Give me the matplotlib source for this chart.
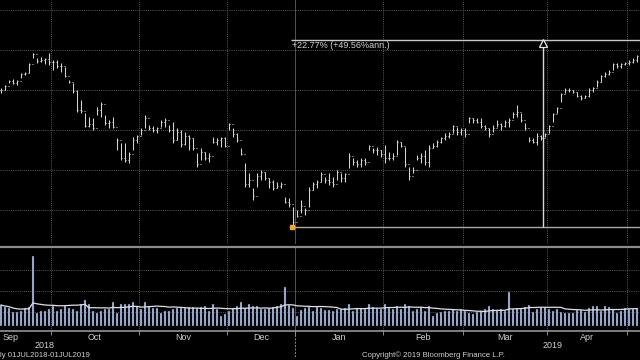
import matplotlib
matplotlib.use("Agg")
import matplotlib.pyplot as plt
import matplotlib.transforms as mtransforms
import numpy as np
import pandas as pd

# ---- data (daily bars, Sep 2018 - early May 2019) ----
months = ["Sep", "Oct", "Nov", "Dec", "Jan", "Feb", "Mar", "Apr", "May"]
month_bars = [13, 22, 22, 17, 22, 20, 21, 20, 3]   # bars visible per month
sep_hidden = 7                                      # Sep bars cut off on the left

high = [
    48.10, 48.25, 48.50, 48.55, 48.50, 48.85, 48.90, 49.35, 49.85, 49.60, 49.65, 49.60, 49.85,
    49.50, 49.50, 49.35, 49.15, 48.50, 48.35, 48.00, 47.50, 46.85, 46.65, 46.60, 47.15, 47.40,
    46.75, 46.50, 46.65, 45.60, 45.35, 45.35, 44.90, 45.65, 45.75,
    46.10, 46.75, 46.25, 46.20, 46.15, 46.50, 46.60, 46.25, 46.40, 46.10, 46.00, 45.90, 45.75,
    45.60, 44.85, 45.10, 44.90, 44.85, 45.65, 45.60, 45.65, 45.65,
    46.35, 46.10, 45.85, 45.10, 44.35, 43.85, 43.10, 43.85, 44.00, 43.90, 43.60, 43.50, 43.40,
    43.40, 42.65, 42.60, 42.15,
    42.00, 42.50, 42.10, 43.15, 43.40, 43.50, 43.90, 43.65, 43.85, 43.65, 44.00, 43.85, 43.85,
    44.85, 44.60, 44.50, 44.60, 44.60, 45.25, 45.10, 45.15, 45.00,
    45.25, 44.90, 44.85, 45.50, 45.40, 45.15, 44.15, 44.15, 44.75, 44.85, 45.00, 45.25, 45.35,
    45.50, 45.65, 45.85, 45.90, 46.25, 46.15, 46.10,
    46.10, 46.65, 46.60, 46.60, 46.60, 46.25, 46.10, 46.25, 46.50, 46.35, 46.50, 46.60, 46.90,
    47.25, 46.85, 46.35, 45.65, 45.60, 45.85, 45.75, 45.85,
    46.25, 46.85, 47.15, 47.85, 48.10, 48.10, 48.00, 47.90, 47.75, 47.75, 48.10, 48.15, 48.50,
    48.75, 48.90, 49.00, 49.35, 49.35, 49.35, 49.40,
    49.50, 49.60, 49.75,
]
low = [
    47.85, 48.00, 48.35, 48.30, 48.25, 48.60, 48.75, 48.85, 49.60, 49.35, 49.40, 49.30, 49.25,
    49.00, 49.10, 48.90, 48.65, 48.35, 47.85, 46.90, 46.85, 46.15, 46.15, 46.00, 46.75, 46.65,
    46.25, 46.10, 46.10, 45.00, 44.50, 44.40, 44.35, 45.00, 45.35,
    45.75, 46.10, 46.00, 45.90, 45.85, 46.15, 46.15, 45.90, 45.35, 45.50, 45.15, 45.25, 45.00,
    45.00, 44.15, 44.50, 44.50, 44.40, 45.35, 45.25, 45.15, 45.15,
    46.00, 45.65, 45.40, 44.75, 43.15, 43.15, 42.50, 43.15, 43.50, 43.50, 43.10, 43.00, 43.10,
    43.10, 42.35, 42.15, 41.15,
    41.65, 41.85, 41.75, 42.15, 43.00, 43.10, 43.40, 43.35, 43.25, 43.15, 43.50, 43.40, 43.40,
    44.10, 44.25, 44.15, 44.15, 44.25, 45.00, 44.85, 44.75, 44.65,
    44.35, 44.50, 44.50, 44.75, 45.15, 44.15, 43.50, 43.85, 44.50, 44.35, 44.25, 44.15, 45.10,
    45.15, 45.35, 45.50, 45.60, 45.85, 45.75, 45.75,
    45.65, 46.35, 46.35, 46.35, 46.10, 46.00, 45.65, 45.90, 46.15, 46.00, 46.15, 46.15, 46.60,
    46.65, 46.40, 46.00, 45.40, 45.35, 45.25, 45.50, 45.65,
    45.85, 46.40, 46.85, 47.40, 47.85, 47.90, 47.85, 47.65, 47.50, 47.60, 47.65, 47.90, 48.15,
    48.40, 48.65, 48.75, 49.00, 49.10, 49.10, 49.25,
    49.25, 49.35, 49.40,
]
close = [
    48.00, 48.20, 48.45, 48.35, 48.45, 48.80, 48.85, 49.30, 49.80, 49.45, 49.50, 49.55, 49.40,
    49.40, 49.20, 49.20, 48.70, 48.40, 47.95, 47.00, 46.95, 46.20, 46.30, 46.10, 47.00, 47.30,
    46.35, 46.40, 46.15, 45.50, 44.60, 44.50, 44.80, 45.50, 45.70,
    46.00, 46.60, 46.10, 46.00, 46.10, 46.40, 46.50, 46.00, 45.50, 45.90, 45.30, 45.70, 45.60,
    45.10, 44.30, 44.90, 44.60, 44.70, 45.40, 45.50, 45.60, 45.20,
    46.30, 45.80, 45.50, 44.80, 43.30, 43.50, 42.70, 43.70, 43.90, 43.60, 43.40, 43.10, 43.20,
    43.30, 42.40, 42.30, 41.40,
    41.70, 42.20, 42.00, 43.00, 43.30, 43.40, 43.80, 43.50, 43.40, 43.30, 43.90, 43.60, 43.80,
    44.70, 44.40, 44.30, 44.50, 44.40, 45.20, 45.00, 45.00, 44.80,
    44.60, 44.60, 44.70, 45.40, 45.20, 44.30, 43.70, 44.00, 44.60, 44.70, 44.40, 45.10, 45.20,
    45.40, 45.60, 45.70, 45.80, 46.20, 45.90, 46.00,
    45.80, 46.60, 46.50, 46.40, 46.20, 46.10, 45.80, 46.10, 46.30, 46.20, 46.40, 46.50, 46.80,
    46.90, 46.50, 46.10, 45.50, 45.40, 45.70, 45.60, 45.80,
    46.20, 46.80, 47.10, 47.80, 48.00, 48.00, 47.90, 47.70, 47.60, 47.70, 48.00, 48.10, 48.40,
    48.70, 48.80, 48.90, 49.30, 49.20, 49.30, 49.35,
    49.40, 49.50, 49.70,
]
volume = [
    3.0, 2.7, 2.6, 2.0, 2.0, 2.2, 2.6, 2.7, 10.0, 1.9, 2.2, 2.2, 2.5,
    2.9, 2.2, 2.5, 2.8, 2.6, 2.4, 2.2, 3.2, 3.7, 3.1, 2.2, 1.9, 2.2, 2.5, 2.5, 3.5, 1.9, 3.1,
    3.1, 3.2, 3.5, 2.8,
    2.4, 3.4, 2.8, 2.6, 2.6, 1.9, 2.2, 2.2, 2.5, 2.6, 2.6, 2.6, 2.7, 2.7, 2.6, 2.7, 2.9, 2.2,
    3.1, 2.5, 1.5, 1.7,
    2.2, 2.6, 2.8, 3.4, 2.6, 3.2, 2.8, 2.8, 2.5, 2.5, 2.6, 2.7, 2.9, 3.1, 5.6, 3.0, 2.6,
    1.5, 2.3, 2.6, 2.7, 2.2, 2.7, 2.6, 2.3, 2.3, 2.2, 2.4, 2.4, 2.6, 3.1, 2.2, 2.6, 2.6, 2.5,
    3.2, 2.7, 2.6, 2.4,
    3.1, 2.6, 2.5, 2.9, 2.4, 3.1, 2.9, 2.2, 2.4, 2.7, 2.2, 2.9, 1.5, 1.9, 2.0, 2.2, 2.2, 2.4,
    2.2, 2.4,
    2.1, 1.9, 1.7, 2.0, 2.2, 2.4, 2.9, 2.4, 2.3, 2.4, 2.2, 4.9, 2.5, 2.6, 2.5, 2.7, 3.0, 2.0,
    2.5, 2.7, 2.7,
    2.5, 2.2, 2.5, 2.0, 1.9, 1.9, 1.9, 2.3, 2.3, 2.0, 2.6, 2.8, 2.9, 2.2, 2.9, 2.7, 2.5, 1.9,
    2.2, 2.6,
    2.5, 2.4, 2.6,
]
vol_ma_window = 14

# measurement tool drawn on the chart
meas_start = 73          # bar index of the low
meas_end = 135.5         # where the vertical marker sits
meas_pct = 22.77
meas_ann = 49.56

# ---- styling ----
BG = "black"
BAR_C = "#d4d4d4"
GRID_C = "#5a5a5a"
TEXT_C = "#cfcfcf"
VOL_C = "#b6c5e6"
plt.rcParams["font.family"] = ["Liberation Sans", "DejaVu Sans"]

W, H = 640, 360
n = len(close)
x = np.arange(n)
open_ = np.r_[close[0], close[:-1]]


def fy(py):
    return 1 - py / H


fig = plt.figure(figsize=(W / 100, H / 100), dpi=100, facecolor=BG)
ax = fig.add_axes([0, fy(244), 1, 244 / H], facecolor=BG)
axv = fig.add_axes([0, fy(331), 1, 84 / H], facecolor=BG, sharex=ax)

ax.set_xlim(-0.25, n - 0.25)
ax.set_ylim(40.3, 52.5)
axv.set_ylim(-0.71, 11.29)

bounds = np.cumsum(month_bars)[:-1] - 0.5
year_bound = bounds[months.index("Jan") - 1]

# grid
dots = (0, (1, 1.2))
for lvl in [42, 44, 46, 48, 50, 52]:
    ax.axhline(lvl, color=GRID_C, lw=0.7, ls=dots, zorder=0)
for lvl in [2, 5, 8]:
    axv.axhline(lvl, color=GRID_C, lw=0.7, ls=dots, zorder=0)
for b in bounds:
    for a in (ax, axv):
        if b == year_bound:
            a.axvline(b, color="#606060", lw=0.6, zorder=0)
        else:
            a.axvline(b, color=GRID_C, lw=0.7, ls=dots, zorder=0)

# price bars (high-low, open tick left, close tick right)
ax.vlines(x, low, high, color=BAR_C, lw=0.75, zorder=2)
ax.hlines(open_, x - 0.35, x, color=BAR_C, lw=0.75, zorder=2)
ax.hlines(close, x, x + 0.35, color=BAR_C, lw=0.75, zorder=2)

# measurement overlay
lo_val = low[meas_start]
hi_val = lo_val * (1 + meas_pct / 100)
ax.hlines(lo_val, meas_start, n, color="#a8a8a8", lw=1.0, zorder=3)
ax.hlines(hi_val, meas_start - 0.5, n, color="#c8c8c8", lw=1.0, zorder=3)
ax.vlines(meas_end, lo_val, hi_val, color="#d8d8d8", lw=1.0, zorder=3)
ax.plot(meas_end, hi_val - 0.17, marker="^", ms=5.5, mfc=BG, mec="#e8e8e8", mew=0.9, zorder=4)
ax.plot(meas_start - 0.2, lo_val, marker="s", ms=3.5, color="#f2a23a", zorder=4)
ax.annotate(f"+{meas_pct:.2f}% (+{meas_ann:.2f}%ann.)", (meas_start - 0.3, hi_val),
            xytext=(0, -1.2), textcoords="offset points", ha="left", va="top",
            fontsize=6.5, color=TEXT_C)

# volume bars + moving average
axv.bar(x, volume, width=0.62, color=VOL_C, edgecolor="#1e2a48", lw=0.3, zorder=2)
vol_ma = pd.Series(volume).rolling(vol_ma_window, min_periods=1).mean()
axv.plot(x, vol_ma, color="#e0e0e0", lw=0.9, zorder=3)

for a in (ax, axv):
    a.set_yticks([])
    for s in a.spines.values():
        s.set_visible(False)
ax.tick_params(bottom=False, labelbottom=False)
axv.spines["top"].set_visible(True)
axv.spines["top"].set_color("#8c8c8c")
axv.spines["top"].set_linewidth(1.6)
axv.spines["bottom"].set_visible(True)
axv.spines["bottom"].set_color("#a0a0a0")
axv.spines["bottom"].set_linewidth(1.1)
axv.set_xticks(bounds)
axv.tick_params(axis="x", length=3, color="#8c8c8c", width=0.7, labelbottom=False)

# month labels centred in each month
trans = mtransforms.blended_transform_factory(axv.transData, fig.transFigure)
starts = np.r_[-sep_hidden - 0.5, bounds]
ends = np.r_[bounds, np.nan]
for m, s0, e0 in zip(months, starts, ends):
    if np.isnan(e0):
        continue
    fig.text((s0 + e0) / 2, fy(338), m, transform=trans, ha="center", va="center",
             fontsize=6.5, color=TEXT_C)

# year separator running below the axis
axv.plot([year_bound, year_bound], [fy(331), fy(358)], transform=trans, color="#8c8c8c",
         lw=0.7, ls=(0, (2, 1.5)), clip_on=False)

fig.text(45 / W, fy(346), "2018", ha="center", va="center", fontsize=6.5, color=TEXT_C)
fig.text(553 / W, fy(346), "2019", ha="center", va="center", fontsize=6.5, color=TEXT_C)
fig.text(0, fy(355.5), "ly 01JUL2018-01JUL2019", ha="left", va="center", fontsize=5.6,
         color=TEXT_C)
fig.text(362 / W, fy(355.5), "Copyright\u00a9 2019 Bloomberg Finance L.P.", ha="left",
         va="center", fontsize=5.6, color=TEXT_C)

fig.savefig("out.png", dpi=100, facecolor=BG)
